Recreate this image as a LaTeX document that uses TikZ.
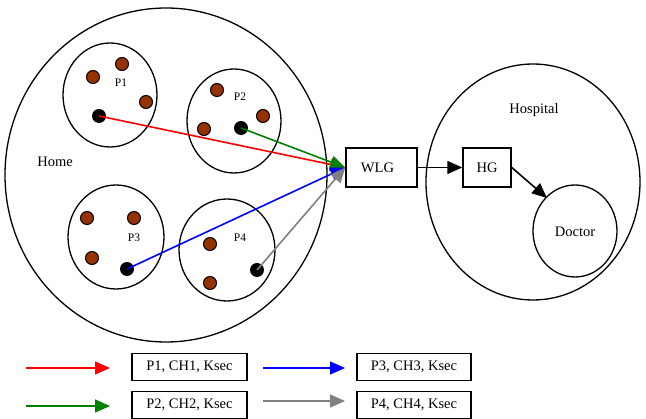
\documentclass[tikz,border=0pt]{standalone}
\usepackage{fontspec}
\setmainfont{Liberation Serif}
\usetikzlibrary{arrows.meta}
\definecolor{dotbrown}{RGB}{150,50,0}
\definecolor{mygreen}{RGB}{0,128,0}
\definecolor{mygray}{RGB}{128,128,128}
\tikzset{
  ring/.style={draw, line width=1.3pt},
  pdot/.style={circle, draw=black, line width=1pt, fill=dotbrown, minimum size=13pt, inner sep=0pt},
  bdot/.style={circle, fill=black, minimum size=14pt, inner sep=0pt},
  lbl/.style={font=\fontsize{14.5}{17}\selectfont, inner sep=0pt},
  plbl/.style={font=\fontsize{11.5}{13}\selectfont, inner sep=0pt},
  gbox/.style={draw, line width=1.5pt, font=\fontsize{14.5}{17}\selectfont, inner sep=0pt},
  conn/.style={line width=1.6pt, -{Triangle[length=15pt,width=13pt]}},
}
\begin{document}
\begin{tikzpicture}[x=1pt,y=-1pt]
\useasboundingbox (0,0) rectangle (646,419);
% Home
\draw[ring] (166,175) ellipse [x radius=161, y radius=167];
\node[lbl] (home) at (55,162) {Home};
% P circles
\draw[ring] (110,95) ellipse [x radius=47, y radius=52];
\draw[ring] (234,121) ellipse [x radius=47, y radius=52];
\draw[ring] (116,237) ellipse [x radius=48, y radius=52];
\draw[ring] (227,250) ellipse [x radius=48, y radius=51];
\node[plbl] (p1) at (121,83) {P1};
\node[plbl] (p2) at (240,97) {P2};
\node[plbl] (p3) at (134,238) {P3};
\node[plbl] (p4) at (240,238) {P4};
% dots
\node[pdot] (a1) at (93,77) {};
\node[pdot] (a2) at (122,64) {};
\node[pdot] (a3) at (146,102) {};
\node[bdot] (k1) at (99,116) {};
\node[pdot] (b1) at (217,90) {};
\node[pdot] (b2) at (263,116) {};
\node[pdot] (b3) at (204,129) {};
\node[bdot] (k2) at (241,128) {};
\node[pdot] (c1) at (87,218) {};
\node[pdot] (c2) at (134,218) {};
\node[pdot] (c3) at (92,258) {};
\node[bdot] (k3) at (127,269) {};
\node[pdot] (d1) at (210,244) {};
\node[pdot] (d2) at (210,283) {};
\node[bdot] (k4) at (257,270) {};
% Hospital
\draw[ring] (533,182) ellipse [x radius=107, y radius=118];
\node[lbl] (hosp) at (534,110) {Hospital};
\draw[ring] (575,231) ellipse [x radius=42, y radius=46];
\node[lbl] (doc) at (575,232) {Doctor};
\coordinate (docin) at (547,198);
% boxes
\node[gbox, minimum width=71pt, minimum height=39pt] (wlg) at (381.5,167.5) {\hspace*{-8pt}WLG};
\node[gbox, minimum width=48pt, minimum height=39pt] (hg) at (487,167.5) {HG};
% connectors
\draw[conn, red] (k1.center) -- (wlg.west);
\draw[conn, mygreen] (k2.center) -- (wlg.west);
\draw[conn, blue] (k3.center) -- (wlg.west);
\draw[conn, mygray] (k4.center) -- (wlg.west);
\draw[conn, black] (wlg.east) -- (hg.west);
\draw[conn, black] (hg.east) -- (docin);
% legend
\node[gbox, minimum width=115pt, minimum height=27pt] (l1) at (189.5,367) {P1, CH1, Ksec};
\node[gbox, minimum width=115pt, minimum height=27pt] (l2) at (189.5,405) {P2, CH2, Ksec};
\node[gbox, minimum width=114pt, minimum height=27pt] (l3) at (414,367) {P3, CH3, Ksec};
\node[gbox, minimum width=114pt, minimum height=27pt] (l4) at (414,405) {P4, CH4, Ksec};
\coordinate (r0) at (26,368); \coordinate (r1) at (110,368);
\coordinate (g0) at (26,406); \coordinate (g1) at (110,406);
\coordinate (u0) at (263,368); \coordinate (u1) at (345,368);
\coordinate (y0) at (263,401); \coordinate (y1) at (345,401);
\draw[conn, red] (r0) -- (r1);
\draw[conn, mygreen] (g0) -- (g1);
\draw[conn, blue] (u0) -- (u1);
\draw[conn, mygray] (y0) -- (y1);
\end{tikzpicture}
\end{document}
